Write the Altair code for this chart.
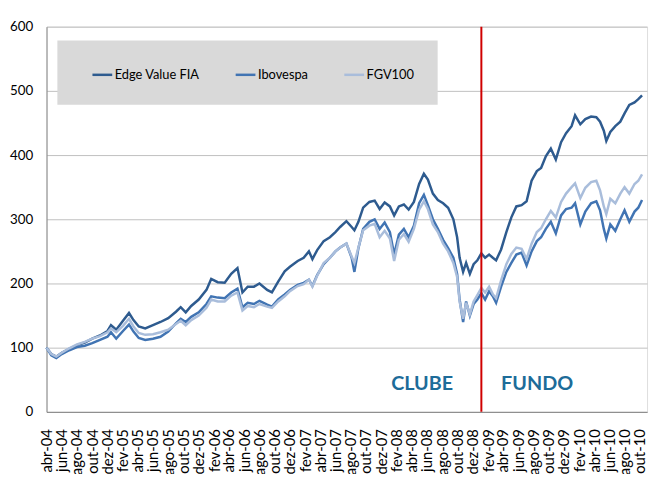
import altair as alt
import pandas as pd

dates = [
    "2004-04-01", "2004-04-20", "2004-05-10", "2004-06-01", "2004-07-01", "2004-08-01", "2004-09-01", "2004-10-01", "2004-11-01", "2004-12-01", "2004-12-15",
    "2005-01-05", "2005-02-01", "2005-02-25", "2005-03-15", "2005-04-05", "2005-05-01", "2005-06-01", "2005-07-01", "2005-08-01", "2005-09-01", "2005-09-20", "2005-10-10", "2005-11-01", "2005-12-01",
    "2006-01-01", "2006-01-20", "2006-02-15", "2006-03-15", "2006-04-10", "2006-05-05", "2006-05-25", "2006-06-15", "2006-07-10", "2006-08-01", "2006-09-01", "2006-09-20", "2006-10-15", "2006-11-10", "2006-12-01",
    "2007-01-01", "2007-01-25", "2007-02-15", "2007-03-01", "2007-03-20", "2007-04-15", "2007-05-10", "2007-06-01", "2007-06-20", "2007-07-15", "2007-08-05", "2007-08-16", "2007-09-01", "2007-09-20", "2007-10-15", "2007-11-05", "2007-11-25", "2007-12-15",
    "2008-01-05", "2008-01-22", "2008-02-10", "2008-03-01", "2008-03-20", "2008-04-10", "2008-05-01", "2008-05-20", "2008-06-05", "2008-06-25", "2008-07-15", "2008-08-05", "2008-08-25", "2008-09-15", "2008-09-30", "2008-10-10", "2008-10-24", "2008-11-05", "2008-11-20", "2008-12-05", "2008-12-20",
    "2009-01-05", "2009-01-20", "2009-02-05", "2009-02-20", "2009-03-05", "2009-03-25", "2009-04-15", "2009-05-05", "2009-05-25", "2009-06-15", "2009-07-05", "2009-07-25", "2009-08-15", "2009-09-01", "2009-09-20", "2009-10-10", "2009-10-30", "2009-11-20", "2009-12-10",
    "2010-01-01", "2010-01-15", "2010-02-05", "2010-02-25", "2010-03-20", "2010-04-10", "2010-04-25", "2010-05-10", "2010-05-20", "2010-06-05", "2010-06-25", "2010-07-15", "2010-08-01", "2010-08-20", "2010-09-10", "2010-09-25", "2010-10-10",
]

edge = [
    100, 90, 86, 92, 98, 104, 108, 114, 119, 126, 135,
    128, 142, 154, 143, 133, 130, 135, 140, 146, 156, 163, 155, 165, 175,
    190, 207, 202, 201, 215, 224, 186, 195, 195, 200, 190, 186, 203, 219, 226,
    235, 240, 250, 238, 252, 266, 272, 280, 288, 297, 288, 283, 296, 318, 327, 329, 316, 326,
    320, 306, 320, 323, 315, 327, 355, 371, 362, 340, 330, 325, 318, 300, 272, 240, 218, 232, 215, 230, 236,
    247, 240, 245, 240, 236, 253, 280, 303, 320, 322, 328, 360, 375, 380, 398, 410, 393, 420, 434,
    445, 462, 448, 456, 460, 459, 452, 438, 422, 436, 445, 452, 465, 478, 482, 487, 493,
]

ibovespa = [
    100, 88, 84, 90, 96, 101, 103, 107, 112, 117, 124,
    114, 126, 136, 125, 115, 112, 114, 117, 125, 138, 145, 140, 148, 155,
    168, 180, 178, 177, 186, 192, 163, 170, 168, 173, 167, 164, 175, 183, 190,
    198, 201, 206, 196, 213, 230, 240, 250, 256, 262, 240, 218, 255, 285, 296, 300, 285, 295,
    280, 245, 276, 285, 272, 290, 325, 338, 322, 300, 285, 268, 255, 240, 215, 175, 140, 172, 150, 168, 175,
    185, 175, 188, 180, 170, 195, 218, 232, 245, 248, 228, 250, 266, 272, 285, 296, 278, 306, 316,
    318, 325, 292, 312, 325, 328, 314, 285, 270, 292, 282, 300, 314, 296, 312, 318, 330,
]

fgv100 = [
    100, 90, 86, 92, 99, 105, 109, 114, 118, 124, 130,
    124, 134, 145, 133, 123, 120, 121, 124, 128, 137, 142, 135, 143, 150,
    162, 175, 172, 172, 181, 186, 158, 165, 163, 168, 164, 162, 172, 180, 188,
    196, 199, 206, 195, 212, 232, 240, 250, 256, 262, 242, 232, 256, 283, 290, 293, 272, 282,
    270, 235, 268, 277, 265, 285, 315, 328, 316, 292, 280, 262, 250, 232, 210, 172, 145, 170, 152, 172, 182,
    193, 186, 195, 183, 177, 205, 230, 246, 256, 254, 238, 262, 280, 286, 300, 313, 303, 327, 340,
    350, 356, 333, 349, 358, 360, 345, 320, 308, 332, 325, 340, 350, 340, 355, 360, 370,
]

series_names = ["Edge Value FIA", "Ibovespa", "FGV100"]
series_colors = ["#2E5B8F", "#4174B3", "#A9BDDB"]

month_pt = ["jan", "fev", "mar", "abr", "mai", "jun", "jul", "ago", "set", "out", "nov", "dez"]
tick_dates = [(2004 + (3 + 2 * i) // 12, (3 + 2 * i) % 12 + 1) for i in range(40)]

divider_date = ["2009-01-05"]
annot_labels = ["CLUBE", "FUNDO"]
annot_dates = ["2008-05-13", "2009-08-16"]
annot_values = [43, 43]

rows = []
for name, vals in zip(series_names, [edge, ibovespa, fgv100]):
    for d, v in zip(dates, vals):
        rows.append({"date": d, "value": v, "serie": name})
df = pd.DataFrame(rows)

x_scale = alt.Scale(
    type="utc",
    domain=[alt.DateTime(year=2004, month=4, date=1, utc=True),
            alt.DateTime(year=2010, month=10, date=30, utc=True)],
)
y_scale = alt.Scale(domain=[0, 600], nice=False)

month_arr = "[" + ",".join("'%s'" % m for m in month_pt) + "]"
x_axis = alt.Axis(
    values=[alt.DateTime(year=y, month=m, date=1, utc=True) for y, m in tick_dates],
    labelExpr=month_arr + "[utcmonth(datum.value)] + '-' + utcFormat(datum.value, '%y')",
    labelAngle=-90, labelAlign="right", labelBaseline="middle",
    labelPadding=17, ticks=False, tickSize=0, grid=False, title=None,
    labelOverlap=False, labelSeparation=0, labelFont="Lato", labelFontSize=15,
    labelColor="#000000", domainColor="#868686", domainWidth=1,
)
y_axis = alt.Axis(
    values=[0, 100, 200, 300, 400, 500, 600], ticks=False, tickSize=0,
    labelPadding=14, title=None, grid=True, gridColor="#BFBFBF", gridWidth=1,
    labelFont="Lato", labelFontSize=13.5, labelColor="#000000",
    domainColor="#868686", domainWidth=1,
)

lines = alt.Chart(df).mark_line(strokeWidth=2.5).encode(
    x=alt.X("date:T", scale=x_scale, axis=x_axis),
    y=alt.Y("value:Q", scale=y_scale, axis=y_axis),
    color=alt.Color(
        "serie:N",
        scale=alt.Scale(domain=series_names, range=series_colors),
        sort=series_names,
        legend=alt.Legend(
            title=None, orient="none", legendX=11, legendY=14,
            direction="horizontal", fillColor="#D9D9D9", padding=23,
            symbolType="stroke", symbolSize=400, symbolStrokeWidth=2.5,
            symbolOffset=11,
            labelFont="Lato", labelFontSize=13, labelColor="#000000",
            labelOffset=1, columnPadding=24,
        ),
    ),
    order=alt.Order("date:T"),
)

divider = alt.Chart(pd.DataFrame({"date": divider_date})).mark_rule(
    color="#D00000", strokeWidth=2
).encode(
    x=alt.X("date:T", scale=x_scale, axis=x_axis),
    y=alt.datum(0, scale=y_scale, axis=y_axis),
    y2=alt.datum(600),
)

annots = alt.Chart(pd.DataFrame({"date": annot_dates, "value": annot_values, "label": annot_labels})).mark_text(
    font="Lato", fontSize=20, fontWeight="bold", color="#1D6C99", align="center", baseline="middle"
).encode(
    x=alt.X("date:T", scale=x_scale, axis=x_axis),
    y=alt.Y("value:Q", scale=y_scale, axis=y_axis),
    text="label:N",
)

chart = alt.layer(lines, divider, annots).properties(
    width=608, height=390,
    autosize=alt.AutoSizeParams(type="none"),
    padding={"left": 39, "top": 16, "right": 4, "bottom": 60},
).configure_view(strokeWidth=0, stroke="transparent").configure(background="#FFFFFF")

chart.save("out.html", embed_options={"renderer": "svg", "actions": False})
